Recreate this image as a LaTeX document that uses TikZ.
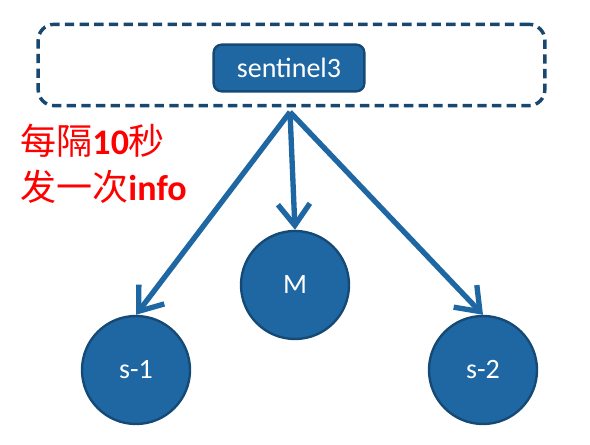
\documentclass[tikz,border=0pt]{standalone}
\usepackage{fontspec}
\setmainfont{Carlito}
\newfontfamily\cjk{Noto Sans CJK SC}
\usetikzlibrary{arrows.meta}

\definecolor{nodeblue}{RGB}{31,103,163}
\definecolor{edgeblue}{RGB}{22,74,118}
\definecolor{dashblue}{RGB}{24,72,112}

\tikzset{every picture/.style={line width=0.75pt}}
\tikzset{
  member/.style={circle,draw=edgeblue,line width=1.8pt,fill=nodeblue,text=white,
    minimum size=81pt,inner sep=0pt,font=\fontsize{21}{24}\selectfont},
  sentbox/.style={rectangle,rounded corners=6pt,draw=edgeblue,line width=1.8pt,fill=nodeblue,
    text=white,minimum width=113pt,minimum height=35pt,font=\fontsize{21}{24}\selectfont},
  groupbox/.style={rectangle,rounded corners=12pt,draw=dashblue,line width=2.6pt,
    dash pattern={on 7pt off 4pt},minimum width=380pt,minimum height=61pt},
  infoarrow/.style={draw=nodeblue,line width=4pt,-{Straight Barb[length=16pt,width=24pt]}}
}

\begin{document}
\begin{tikzpicture}[x=0.75pt,y=0.75pt,yscale=-1,xscale=1]
\useasboundingbox (0,0) rectangle (590,445);

% sentinel group
\node [groupbox] (grp) at (291.5,65) {};
\node [sentbox] (sent) at (289,68) {sentinel3};
\coordinate (src) at (290,112);

% master and slaves
\node [member] (m) at (295,285) {M};
\node [member] (s1) at (136,370) {s-1};
\node [member] (s2) at (483,370) {s-2};

% info arrows
\draw [infoarrow] (src) -- (s1.north);
\draw [infoarrow] (src) -- (m.north);
\draw [infoarrow] (src) -- (s2.north);

% Text Node
\node [anchor=north west,inner sep=0pt,align=left,text=red,
  font=\fontsize{27}{34}\selectfont] (note) at (20,124)
  {{\cjk 每隔}\textbf{10}{\cjk 秒}\\{\cjk 发一次}\textbf{info}};

\end{tikzpicture}
\end{document}
